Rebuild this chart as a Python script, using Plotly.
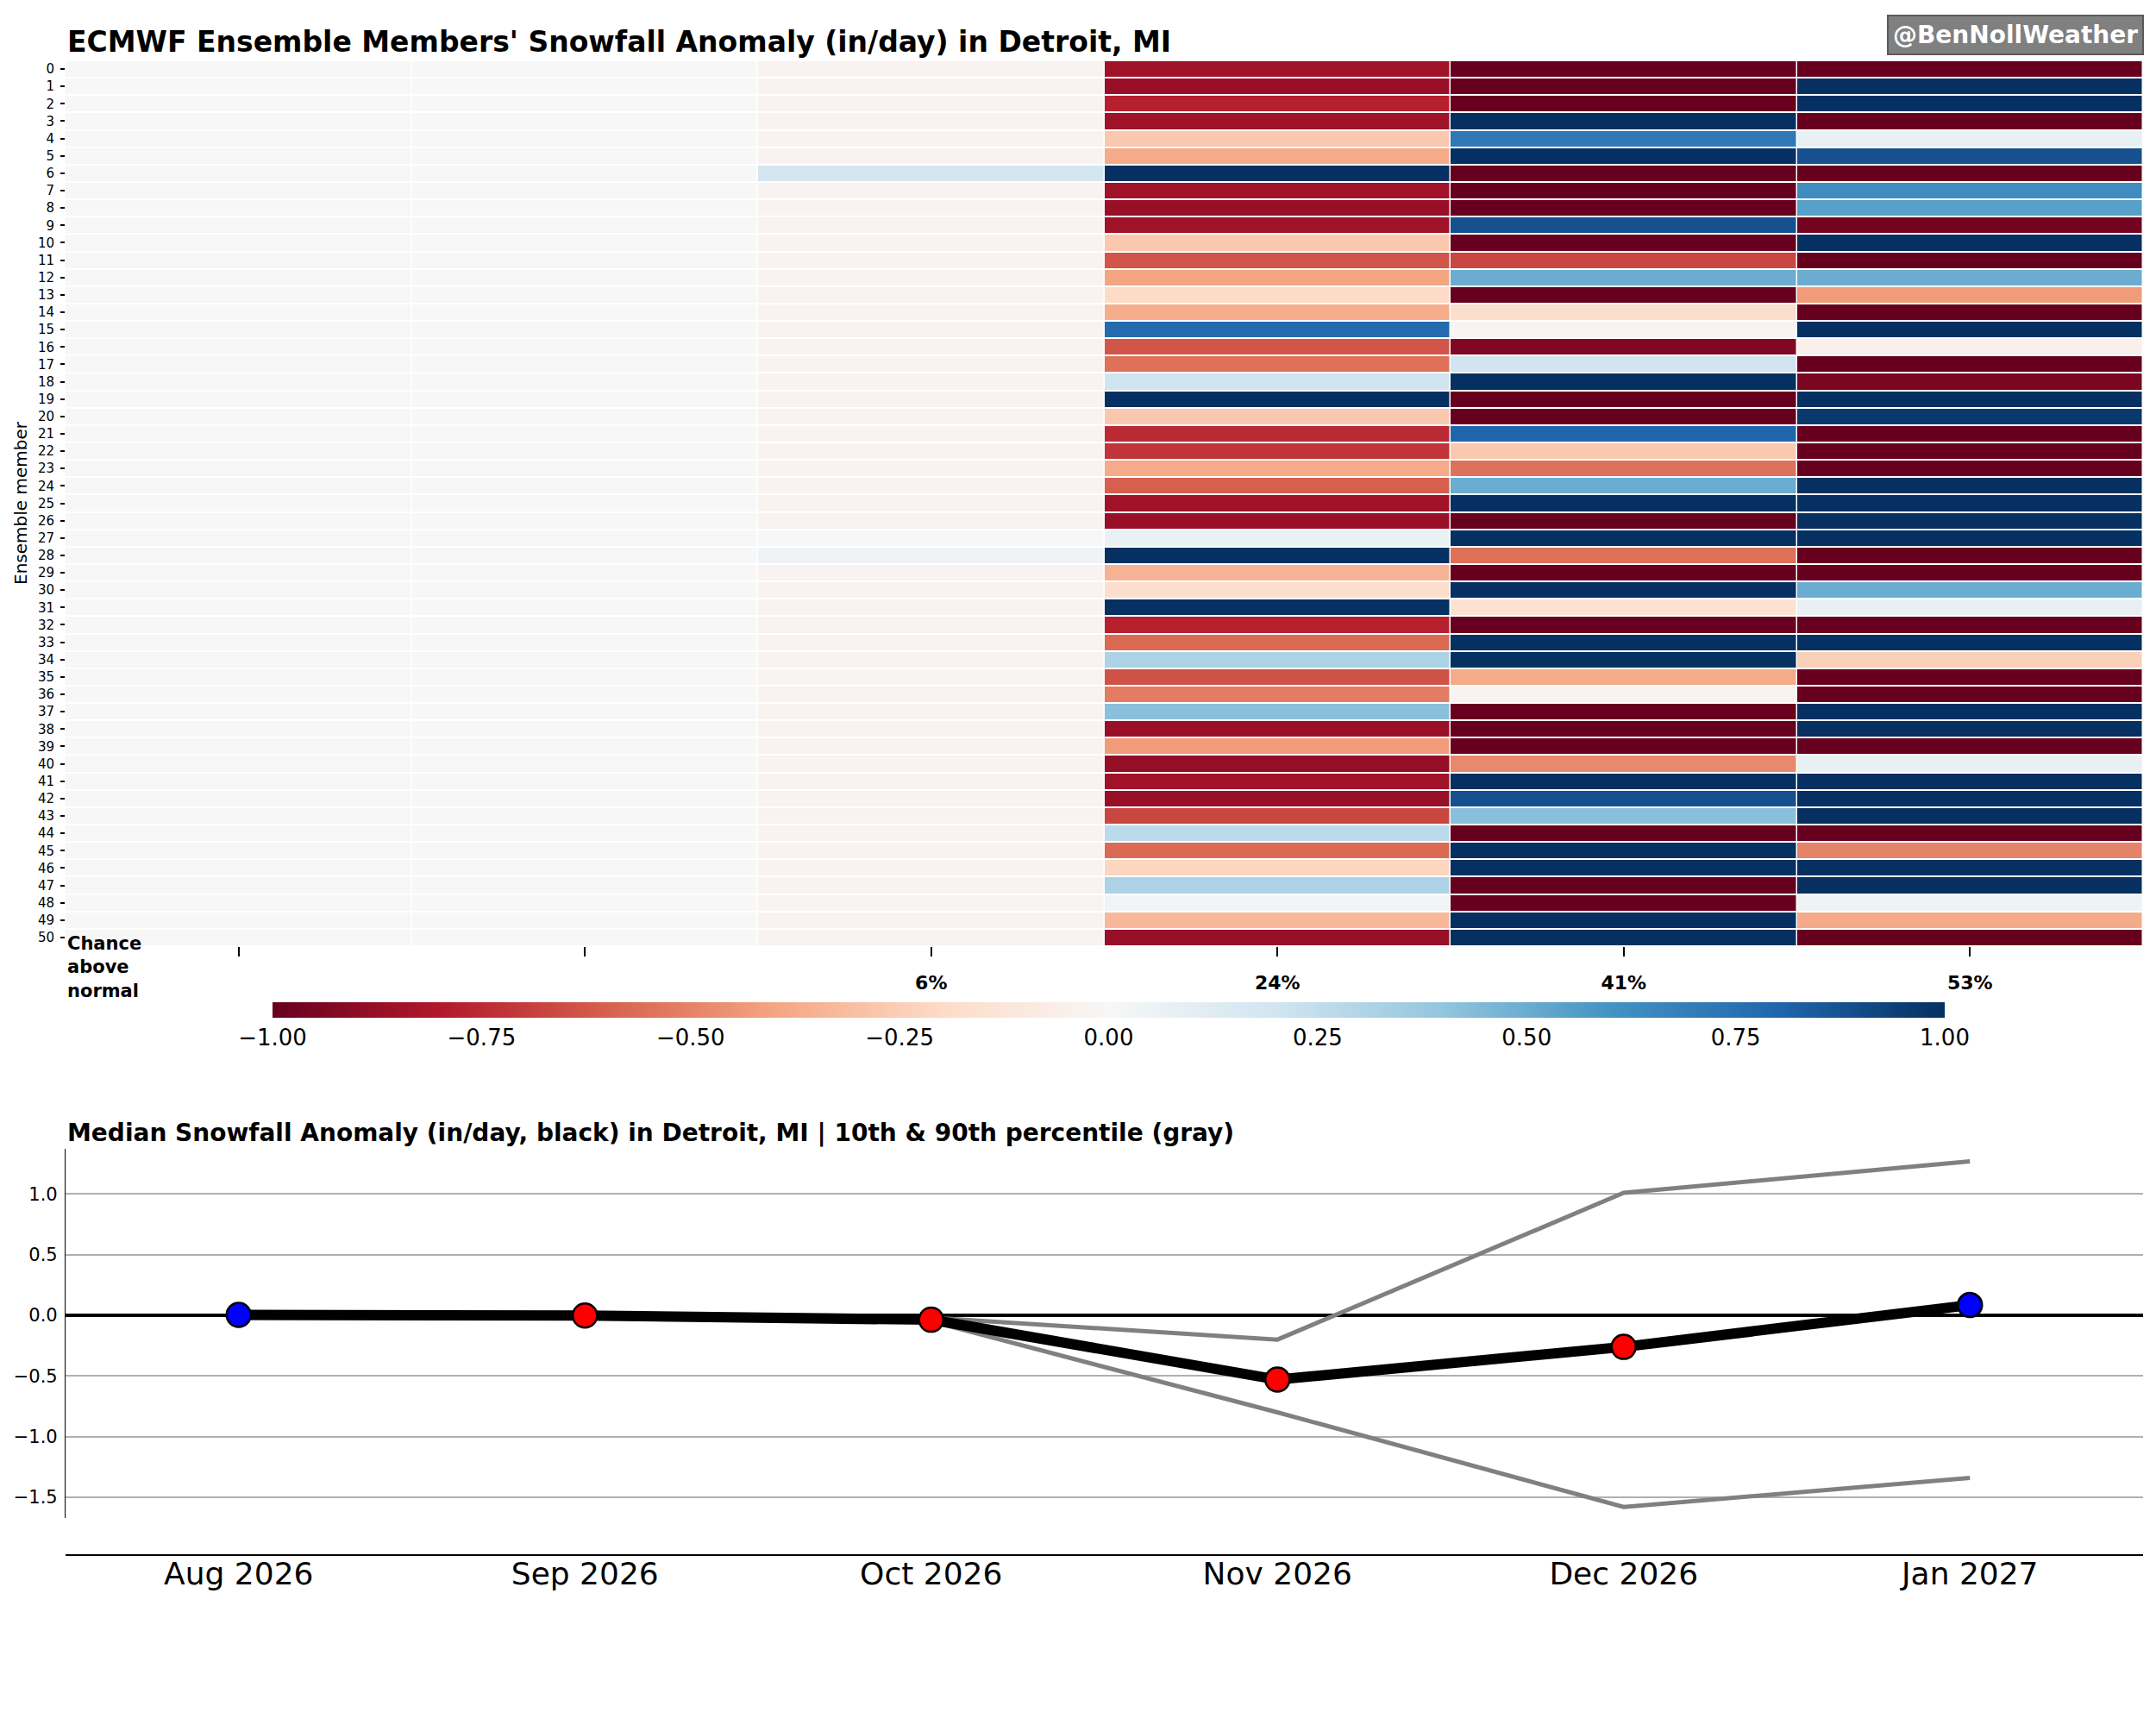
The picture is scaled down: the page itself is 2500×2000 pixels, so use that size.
import plotly.graph_objects as go

# months shown on both panels
months = ["Aug 2026", "Sep 2026", "Oct 2026", "Nov 2026", "Dec 2026", "Jan 2027"]
members = list(range(51))

# per-member snowfall anomaly (in/day), member 0..50, colour scale clipped at +/-1
anom_aug = [0.0, 0.0, 0.0, 0.0, 0.0, 0.0, 0.0, 0.0, 0.0, 0.0,
            0.0, 0.0, 0.0, 0.0, 0.0, 0.0, 0.0, 0.0, 0.0, 0.0,
            0.0, 0.0, 0.0, 0.0, 0.0, 0.0, 0.0, 0.0, 0.0, 0.0,
            0.0, 0.0, 0.0, 0.0, 0.0, 0.0, 0.0, 0.0, 0.0, 0.0,
            0.0, 0.0, 0.0, 0.0, 0.0, 0.0, 0.0, 0.0, 0.0, 0.0, 0.0]
anom_sep = [0.0, 0.0, 0.0, 0.0, 0.0, 0.0, 0.0, 0.0, 0.0, 0.0,
            0.0, 0.0, 0.0, 0.0, 0.0, 0.0, 0.0, 0.0, 0.0, 0.0,
            0.0, 0.0, 0.0, 0.0, 0.0, 0.0, 0.0, 0.0, 0.0, 0.0,
            0.0, 0.0, 0.0, 0.0, 0.0, 0.0, 0.0, 0.0, 0.0, 0.0,
            0.0, 0.0, 0.0, 0.0, 0.0, 0.0, 0.0, 0.0, 0.0, 0.0, 0.0]
anom_oct = [-0.03, -0.03, -0.03, -0.03, -0.03, -0.03, 0.19, -0.03, -0.03, -0.03,
            -0.03, -0.03, -0.03, -0.03, -0.03, -0.03, -0.03, -0.03, -0.03, -0.03,
            -0.03, -0.03, -0.03, -0.03, -0.03, -0.03, -0.03, 0.005, 0.04, -0.03,
            -0.03, -0.03, -0.03, -0.03, -0.03, -0.02, -0.03, -0.03, -0.03, -0.03,
            -0.03, -0.03, -0.03, -0.03, -0.03, -0.03, -0.03, -0.03, -0.02, -0.03, -0.03]
anom_nov = [-0.85, -0.87, -0.78, -0.85, -0.27, -0.38, 1.0, -0.85, -0.87, -0.85,
            -0.27, -0.63, -0.40, -0.20, -0.37, 0.78, -0.63, -0.55, 0.20, 1.0,
            -0.27, -0.75, -0.72, -0.38, -0.60, -0.85, -0.87, 0.07, 1.0, -0.35,
            -0.18, 1.0, -0.78, -0.57, 0.32, -0.64, -0.52, 0.42, -0.87, -0.43,
            -0.88, -0.85, -0.87, -0.67, 0.27, -0.57, -0.22, 0.32, 0.03, -0.33, -0.87]
anom_dec = [-1.0, -1.0, -1.0, 1.0, 0.72, 1.0, -1.0, -1.0, -1.0, 0.88,
            -1.0, -0.67, 0.50, -1.0, -0.18, -0.02, -0.93, 0.20, 1.0, -1.0,
            -1.0, 0.80, -0.27, -0.55, 0.50, 1.0, -1.0, 1.0, -0.55, -1.0,
            1.0, -0.15, -1.0, 1.0, 1.0, -0.38, -0.03, -1.0, -1.0, -1.0,
            -0.48, 1.0, 0.88, 0.42, -1.0, 1.0, 1.0, -1.0, -1.0, 1.0, 1.0]
anom_jan = [-1.0, 1.0, 1.0, -1.0, 0.08, 0.88, -1.0, 0.63, 0.55, -0.97,
            1.0, -1.0, 0.50, -0.43, -1.0, 1.0, -0.05, -1.0, -0.95, 1.0,
            0.97, -1.0, -1.0, -1.0, 1.0, 1.0, 1.0, 1.0, -1.0, -1.0,
            0.50, 0.08, -1.0, 1.0, -0.24, -1.0, -1.0, 1.0, 1.0, -1.0,
            0.08, 1.0, 1.0, 1.0, -1.0, -0.50, 1.0, 1.0, 0.05, -0.38, -1.0]

# ensemble statistics for the lower panel (in/day)
median_anom = [0.004, -0.002, -0.036, -0.53, -0.26, 0.085]
p10_anom = [-0.02, -0.02, -0.05, -0.80, -1.58, -1.34]
p90_anom = [0.01, 0.01, -0.02, -0.20, 1.01, 1.27]

ytick_vals = [-1.5, -1.0, -0.5, 0.0, 0.5, 1.0]
cbar_ticks = [-1.0, -0.75, -0.5, -0.25, 0.0, 0.25, 0.5, 0.75, 1.0]

# matplotlib-style RdBu
rdbu = ["#67001f", "#b2182b", "#d6604d", "#f4a582", "#fddbc7", "#f7f7f7",
        "#d1e5f0", "#92c5de", "#4393c3", "#2166ac", "#053061"]
colorscale = [[i / 10, c] for i, c in enumerate(rdbu)]

FONT = "DejaVu Sans"
W, H = 2500, 2000
OFF = 8  # page body margin

columns = [anom_aug, anom_sep, anom_oct, anom_nov, anom_dec, anom_jan]
z = [[col[m] for col in columns] for m in members]

# chance above normal: share of members with a positive anomaly
pct_labels = []
for col in columns:
    n_pos = sum(1 for v in col if v > 0)
    pct = round(100 * n_pos / len(col))
    pct_labels.append(f"<b>{pct}%</b>" if n_pos > 0 else "")


def px_x(p):
    return (p - OFF) / W


def px_y(p):
    return 1 - (p - OFF) / H


fig = go.Figure()

fig.add_trace(go.Heatmap(
    x=months, y=members, z=z,
    zmin=-1, zmax=1, colorscale=colorscale,
    xgap=1.5, ygap=2,
    colorbar=dict(
        orientation="h", x=px_x((316 + 2255) / 2), xanchor="center",
        y=px_y(1162), yanchor="top", len=(2255 - 316) / W, lenmode="fraction",
        xpad=0, ypad=0,
        thickness=18, outlinewidth=0, ticks="",
        tickvals=cbar_ticks, tickformat=".2f",
        tickfont=dict(family=FONT, size=26, color="black"),
    ),
    xaxis="x", yaxis="y",
))

fig.add_trace(go.Scatter(
    x=months, y=p90_anom, mode="lines",
    line=dict(color="#808080", width=5), xaxis="x2", yaxis="y2",
))
fig.add_trace(go.Scatter(
    x=months, y=p10_anom, mode="lines",
    line=dict(color="#808080", width=5), xaxis="x2", yaxis="y2",
))
fig.add_trace(go.Scatter(
    x=months, y=median_anom, mode="lines+markers",
    line=dict(color="black", width=12),
    marker=dict(size=28, color=["blue" if v > 0 else "red" for v in median_anom],
                line=dict(color="black", width=2.5)),
    xaxis="x2", yaxis="y2",
))

fig.update_layout(
    width=W, height=H,
    margin=dict(l=0, r=0, t=0, b=0),
    paper_bgcolor="white", plot_bgcolor="white",
    showlegend=False,
    font=dict(family=FONT, color="black"),
    xaxis=dict(
        domain=[px_x(76), px_x(2485)], anchor="y",
        tickvals=months, ticktext=pct_labels,
        ticks="outside", ticklen=11, tickwidth=1.5, tickcolor="black",
        ticklabelstandoff=12,
        tickfont=dict(family=FONT, size=22, color="black"),
        showgrid=False, zeroline=False, showline=False,
    ),
    yaxis=dict(
        domain=[px_y(1097), px_y(70)], anchor="x",
        autorange="reversed", tickvals=members,
        ticks="outside", ticklen=5, tickwidth=1.5, tickcolor="black",
        ticklabelstandoff=4,
        tickfont=dict(family=FONT, size=15, color="black"),
        showgrid=False, zeroline=False, showline=False,
    ),
    xaxis2=dict(
        domain=[px_x(76), px_x(2485)], anchor="free", position=px_y(1803),
        range=[-0.5, 5.5], showline=True, linecolor="black", linewidth=2,
        ticks="", ticklabelstandoff=-10,
        tickfont=dict(family=FONT, size=36, color="black"),
        showgrid=False, zeroline=False,
    ),
    yaxis2=dict(
        domain=[px_y(1760), px_y(1332)], anchor="x2",
        range=[-1.671, 1.373],
        tickvals=ytick_vals, tickformat=".1f",
        ticks="", ticklabelstandoff=4,
        tickfont=dict(family=FONT, size=21, color="black"),
        showgrid=True, gridcolor="#b0b0b0", gridwidth=2,
        zeroline=True, zerolinecolor="black", zerolinewidth=4,
        showline=True, linecolor="black", linewidth=1.2,
    ),
    annotations=[
        dict(text="<b>ECMWF Ensemble Members' Snowfall Anomaly (in/day) in Detroit, MI</b>",
             xref="paper", yref="paper", x=px_x(76), y=px_y(49),
             xanchor="left", yanchor="middle", showarrow=False,
             font=dict(family=FONT, size=33, color="black")),
        dict(text="<b>@BenNollWeather</b>",
             xref="paper", yref="paper", x=px_x(2486), y=px_y(40),
             xanchor="right", yanchor="middle", showarrow=False,
             bgcolor="#808080", bordercolor="#5a5a5a", borderwidth=2, borderpad=5,
             font=dict(family=FONT, size=28, color="white")),
        dict(text="Ensemble member", textangle=-90,
             xref="paper", yref="paper", x=px_x(24), y=px_y(583),
             xanchor="center", yanchor="middle", showarrow=False,
             font=dict(family=FONT, size=20, color="black")),
        dict(text="<b>Chance<br>above<br>normal</b>", align="left",
             xref="paper", yref="paper", x=px_x(76), y=px_y(1121),
             xanchor="left", yanchor="middle", showarrow=False,
             font=dict(family=FONT, size=21, color="black")),
        dict(text="<b>Median Snowfall Anomaly (in/day, black) in Detroit, MI | "
                  "10th &amp; 90th percentile (gray)</b>",
             xref="paper", yref="paper", x=px_x(76), y=px_y(1313),
             xanchor="left", yanchor="middle", showarrow=False,
             font=dict(family=FONT, size=28, color="black")),
    ],
)

fig.write_html("out.html")
